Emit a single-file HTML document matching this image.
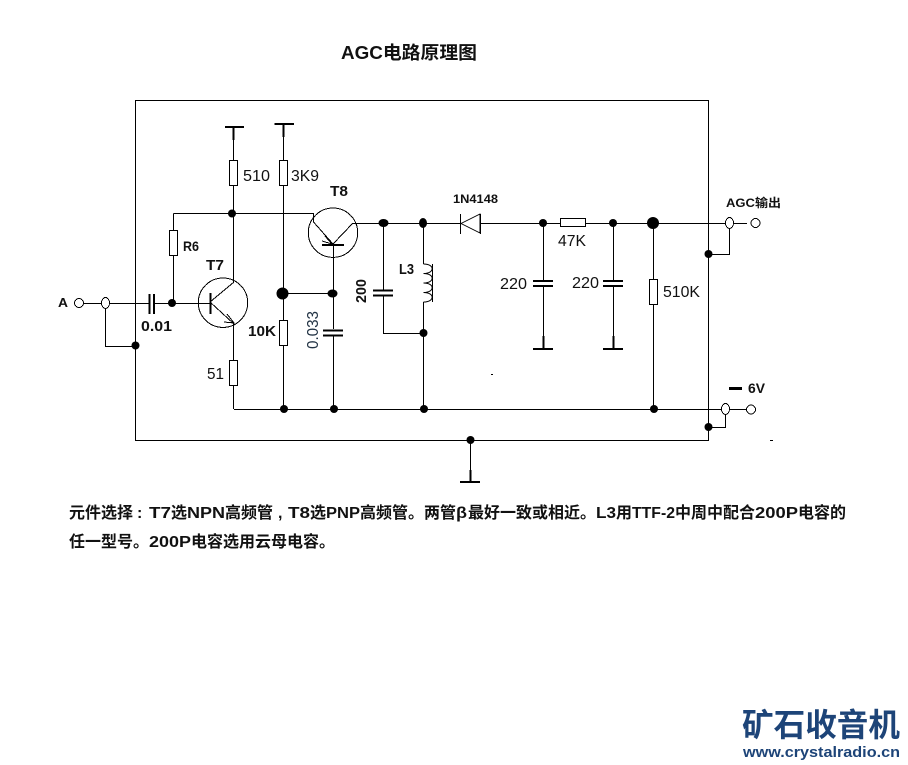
<!DOCTYPE html>
<html><head><meta charset="utf-8"><style>
html,body{margin:0;padding:0;background:#fff}
svg{display:block}
text{font-family:"Liberation Sans","Noto Sans CJK SC",sans-serif;fill:#111}
.b{font-weight:700}
.p{font-weight:700;font-size:16px}
.w{fill:none;stroke:#000;stroke-width:1;shape-rendering:crispEdges}
.r{fill:#fff;stroke:#000;stroke-width:1;shape-rendering:crispEdges}
.t{stroke:#000;stroke-width:2;fill:none;shape-rendering:crispEdges}
</style></head><body>
<svg width="908" height="765" viewBox="0 0 908 765" xmlns="http://www.w3.org/2000/svg">
<rect width="908" height="765" fill="#fff"/>
<text class="b" x="341" y="59" font-size="18" textLength="136" lengthAdjust="spacingAndGlyphs">AGC电路原理图</text>

<!-- wires -->
<path class="w" d="M135.5 100.5H708.5V440.500H135.5Z"/>
<path class="w" d="M233.5 127V282M283.5 124V409M173.500 213.500H313.500M173.500 213.500V303M84 303.500H149M154 303.500H210M105.500 309V346.500H135.500"/>
<path class="w" d="M233.500 324V409M234 409.500H751M333.500 245V329M333.500 336V409M282 293.500H333"/>
<path class="w" d="M353 223.500H461M480 223.500H747M383.500 223V290M383.500 296V333.500H423.500M423.500 223V264M423.500 302V409"/>
<path class="w" d="M543.500 223V280M543.500 287V349M613.500 223V280M613.500 287V349M653.500 223V409M708.500 254.500H729.500V229M708.500 427.500H725.500V415M470.500 440V482"/>

<!-- resistors -->
<rect class="r" x="229.500" y="160.500" width="8" height="25"/>
<rect class="r" x="279.500" y="160.500" width="8" height="25"/>
<rect class="r" x="169.500" y="230.500" width="8" height="25"/>
<rect class="r" x="229.500" y="360.500" width="8" height="25"/>
<rect class="r" x="279.500" y="320.500" width="8" height="25"/>
<rect class="r" x="560.500" y="218.500" width="25" height="8"/>
<rect class="r" x="649.500" y="279.500" width="8" height="25"/>

<!-- power / ground bars -->
<path class="t" d="M225 127H244M274.500 124H294M533 349H553M603 349H623M460 482H480"/>
<path d="M233.500 127V140M283.500 124V137M543.500 336V349M613.500 336V349M470.500 470V482" stroke="#000" stroke-width="2" fill="none" shape-rendering="crispEdges"/>

<!-- transistors -->
<circle class="w" cx="333" cy="232.700" r="24.700"/>
<circle class="w" cx="223" cy="302.700" r="24.700"/>
<path class="w" d="M313.500 213V222L333 244L353 223"/>
<path class="t" d="M322 245H344M210.500 293V314"/>
<path class="w" d="M210 302L234 282M210 302L234 324"/>
<path class="w" d="M325 236L332 244L322 241M227 314L234 323L224 322"/>

<!-- capacitors -->
<path class="t" d="M149.500 294V314M154 294V314M323 330.500H343M323 335.500H343M373 290.500H393M373 295.500H393M533 281H553M533 286H553M603 281H623M603 286H623"/>

<!-- inductor -->
<path class="w" style="shape-rendering:auto" d="M423.500 264C435 264 435 273.500 423.500 273.500C435 273.500 435 283 423.500 283C435 283 435 292.500 423.500 292.500C435 292.500 435 302 423.500 302"/>
<path class="w" d="M432.500 264V302"/>

<!-- diode -->
<path class="r" d="M461 223.500L480 214V233Z"/>
<path class="w" d="M460.500 214V234M480.500 214V234"/>

<!-- terminals -->
<circle class="r" cx="79" cy="303" r="4.500"/>
<ellipse class="r" cx="105.500" cy="303" rx="4" ry="5.500"/>
<ellipse class="r" cx="729.500" cy="223" rx="4" ry="5.500"/>
<circle class="r" cx="755.500" cy="223" r="4.500"/>
<ellipse class="r" cx="725.500" cy="409" rx="4" ry="5.500"/>
<circle class="r" cx="751" cy="409.500" r="4.500"/>

<!-- dots -->
<g fill="#000">
<circle cx="232" cy="213.500" r="4"/><circle cx="172" cy="303" r="4"/><circle cx="135.500" cy="345.500" r="4"/>
<ellipse cx="282.500" cy="293.500" rx="6" ry="6"/><ellipse cx="332.500" cy="293.500" rx="5" ry="4"/>
<circle cx="284" cy="409" r="4"/><circle cx="334" cy="409" r="4"/><circle cx="424" cy="409" r="4"/><circle cx="654" cy="409" r="4"/>
<ellipse cx="383.500" cy="223" rx="5" ry="4"/><ellipse cx="423" cy="223" rx="4" ry="5"/><circle cx="543" cy="223" r="4"/><circle cx="613" cy="223" r="4"/><circle cx="653" cy="223" r="6"/>
<circle cx="423.500" cy="333" r="4"/><circle cx="708.500" cy="254" r="4"/><circle cx="708.500" cy="427" r="4"/><circle cx="470.500" cy="440" r="4"/>
<rect x="491" y="374" width="2" height="1"/><rect x="770" y="440" width="3" height="1"/>
<rect x="729" y="387" width="13" height="3"/>
</g>

<!-- labels -->
<text x="243" y="181" font-size="16" textLength="27" lengthAdjust="spacingAndGlyphs">510</text>
<text x="291" y="181" font-size="16" textLength="28" lengthAdjust="spacingAndGlyphs">3K9</text>
<text class="b" x="330" y="196" font-size="15" textLength="18" lengthAdjust="spacingAndGlyphs">T8</text>
<text class="b" x="183" y="251" font-size="14" textLength="16" lengthAdjust="spacingAndGlyphs">R6</text>
<text class="b" x="206" y="270" font-size="15" textLength="18" lengthAdjust="spacingAndGlyphs">T7</text>
<text class="b" x="58" y="307" font-size="13" textLength="10" lengthAdjust="spacingAndGlyphs">A</text>
<text class="b" x="141" y="331" font-size="15" textLength="31" lengthAdjust="spacingAndGlyphs">0.01</text>
<text class="b" x="248" y="336" font-size="15" textLength="28" lengthAdjust="spacingAndGlyphs">10K</text>
<text x="207" y="379" font-size="16" textLength="17" lengthAdjust="spacingAndGlyphs">51</text>
<text class="b" transform="translate(366 303) rotate(-90)" font-size="15" textLength="24" lengthAdjust="spacingAndGlyphs">200</text>
<text transform="translate(318 349) rotate(-90)" font-size="16" textLength="38" lengthAdjust="spacingAndGlyphs" style="fill:#234">0.033</text>
<text class="b" x="399" y="274" font-size="15" textLength="15" lengthAdjust="spacingAndGlyphs">L3</text>
<text class="b" x="453" y="203" font-size="12" textLength="45" lengthAdjust="spacingAndGlyphs">1N4148</text>
<text x="558" y="246" font-size="16" textLength="28" lengthAdjust="spacingAndGlyphs">47K</text>
<text x="500" y="289" font-size="16" textLength="27" lengthAdjust="spacingAndGlyphs">220</text>
<text x="572" y="288" font-size="16" textLength="27" lengthAdjust="spacingAndGlyphs">220</text>
<text x="663" y="297" font-size="16" textLength="37" lengthAdjust="spacingAndGlyphs">510K</text>
<text class="b" x="726" y="207" font-size="12" textLength="55" lengthAdjust="spacingAndGlyphs">AGC输出</text>
<text class="b" x="748" y="393" font-size="14" textLength="17" lengthAdjust="spacingAndGlyphs">6V</text>

<!-- paragraph -->
<text class="p" x="69" y="518">元件选择</text>
<text class="p" x="137" y="518">:</text>
<text class="p" x="149" y="518" textLength="22" lengthAdjust="spacingAndGlyphs">T7</text>
<text class="p" x="171" y="518">选</text>
<text class="p" x="187" y="518" textLength="38" lengthAdjust="spacingAndGlyphs">NPN</text>
<text class="p" x="225" y="518">高频管</text>
<text class="p" x="278" y="518">,</text>
<text class="p" x="288" y="518" textLength="22" lengthAdjust="spacingAndGlyphs">T8</text>
<text class="p" x="310" y="518">选</text>
<text class="p" x="326" y="518" textLength="34" lengthAdjust="spacingAndGlyphs">PNP</text>
<text class="p" x="360" y="518">高频管。两管</text>
<text class="p" x="456" y="518" textLength="11" lengthAdjust="spacingAndGlyphs">β</text>
<text class="p" x="468" y="518">最好一致或相近。</text>
<text class="p" x="596" y="518" textLength="20" lengthAdjust="spacingAndGlyphs">L3</text>
<text class="p" x="616" y="518">用</text>
<text class="p" x="632" y="518" textLength="43" lengthAdjust="spacingAndGlyphs">TTF-2</text>
<text class="p" x="675" y="518">中周中配合</text>
<text class="p" x="755" y="518" textLength="43" lengthAdjust="spacingAndGlyphs">200P</text>
<text class="p" x="798" y="518">电容的</text>
<text class="p" x="69" y="547">任一型号。</text>
<text class="p" x="149" y="547" textLength="42" lengthAdjust="spacingAndGlyphs">200P</text>
<text class="p" x="191" y="547">电容选用云母电容。</text>

<!-- logo -->
<text class="b" x="742" y="736" font-size="32" textLength="158" lengthAdjust="spacingAndGlyphs" style="fill:#1d4478">矿石收音机</text>
<text class="b" x="743" y="757" font-size="15" textLength="157" lengthAdjust="spacingAndGlyphs" style="fill:#1d4478">www.crystalradio.cn</text>
</svg>
</body></html>
